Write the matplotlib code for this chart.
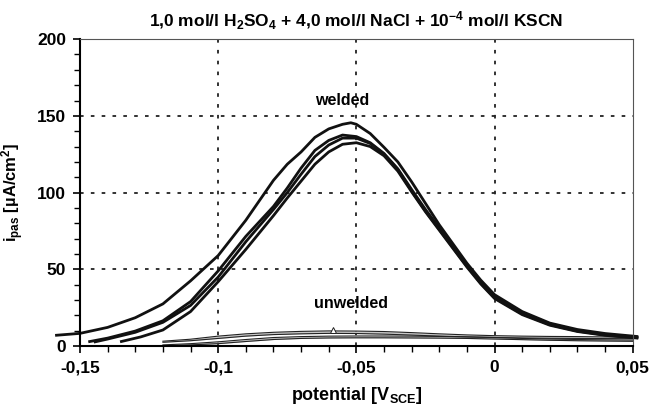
import numpy as np
import matplotlib.pyplot as plt
from matplotlib.ticker import MultipleLocator

plt.rcParams['font.family'] = ['Liberation Sans', 'DejaVu Sans']
plt.rcParams['font.weight'] = 'bold'
plt.rcParams['mathtext.fontset'] = 'custom'
plt.rcParams['mathtext.rm'] = 'Liberation Sans:bold'
plt.rcParams['mathtext.it'] = 'Liberation Sans:bold'
plt.rcParams['mathtext.bf'] = 'Liberation Sans:bold'

# =============================================================================
# data
# =============================================================================

# welded: four scans
xa = [-0.159, -0.15, -0.14, -0.13, -0.12, -0.11, -0.10, -0.09, -0.08, -0.075,
      -0.07, -0.065, -0.06, -0.055, -0.052, -0.05, -0.045, -0.04, -0.035, -0.03,
      -0.025, -0.02, -0.015, -0.01, -0.005, 0.0, 0.01, 0.02, 0.03, 0.04, 0.052]
ya = [7.0, 8.3, 12.2, 18.5, 27.5, 42.5, 59.0, 82.0, 108.0, 118.5,
      126.5, 136.0, 141.5, 144.5, 145.5, 144.5, 138.5, 129.5, 120.0, 107.0,
      93.0, 79.0, 66.5, 54.0, 43.0, 33.5, 22.5, 15.0, 10.8, 8.2, 6.2]

xb = [-0.147, -0.14, -0.13, -0.12, -0.11, -0.10, -0.09, -0.08, -0.075, -0.07,
      -0.065, -0.06, -0.055, -0.05, -0.045, -0.04, -0.035, -0.03, -0.025, -0.02,
      -0.015, -0.01, -0.005, 0.0, 0.01, 0.02, 0.03, 0.04, 0.052]
yb = [2.8, 5.2, 9.8, 16.5, 29.0, 49.0, 71.5, 91.0, 103.0, 116.0,
      127.5, 134.0, 137.5, 136.5, 132.5, 125.5, 115.5, 102.0, 89.0, 77.0,
      65.0, 53.0, 42.0, 32.5, 21.8, 14.5, 10.2, 7.6, 5.6]

xc = [-0.145, -0.14, -0.13, -0.12, -0.11, -0.10, -0.09, -0.08, -0.075, -0.07,
      -0.065, -0.06, -0.055, -0.05, -0.045, -0.04, -0.035, -0.03, -0.025, -0.02,
      -0.015, -0.01, -0.005, 0.0, 0.01, 0.02, 0.03, 0.04, 0.052]
yc = [2.6, 4.6, 9.0, 15.5, 26.5, 45.0, 68.0, 89.0, 100.0, 112.0,
      123.5, 131.0, 135.5, 135.5, 132.0, 125.0, 115.0, 101.0, 88.0, 76.0,
      64.0, 52.0, 41.0, 31.5, 21.0, 14.0, 9.8, 7.3, 5.4]

xd = [-0.1355, -0.128, -0.12, -0.11, -0.10, -0.09, -0.08, -0.075, -0.07,
      -0.065, -0.06, -0.055, -0.05, -0.045, -0.04, -0.035, -0.03, -0.025, -0.02,
      -0.015, -0.01, -0.005, 0.0, 0.01, 0.02, 0.03, 0.04, 0.052]
yd = [2.8, 6.0, 10.5, 22.5, 42.0, 63.0, 85.0, 96.5, 107.5,
      118.5, 126.5, 131.5, 132.5, 130.0, 124.0, 114.0, 100.5, 87.5, 75.5,
      63.5, 51.5, 40.5, 31.0, 20.5, 13.6, 9.5, 7.0, 5.2]

# unwelded: two loops (forward / backward)
xu = [-0.12, -0.11, -0.10, -0.09, -0.08, -0.07, -0.06, -0.05, -0.04, -0.03,
      -0.02, -0.01, 0.0, 0.01, 0.02, 0.03, 0.04, 0.052]
yu1_fw = [3.2, 4.5, 6.5, 8.0, 9.0, 9.6, 9.9, 9.8, 9.5, 8.8,
          8.0, 7.3, 6.8, 6.5, 6.3, 6.2, 6.0, 5.8]
yu1_bw = [2.5, 3.5, 5.0, 6.5, 7.5, 8.0, 8.3, 8.2, 7.8, 7.2,
          6.5, 6.0, 5.6, 5.3, 5.1, 5.0, 4.9, 4.8]
yu2_fw = [0.8, 1.6, 2.8, 4.3, 5.6, 6.2, 6.5, 6.6, 6.6, 6.5,
          6.3, 6.0, 5.6, 5.0, 4.6, 4.3, 4.1, 3.9]
yu2_bw = [0.3, 0.8, 1.6, 3.0, 4.3, 5.0, 5.3, 5.4, 5.4, 5.3,
          5.2, 5.0, 4.6, 4.2, 3.8, 3.5, 3.3, 3.1]

xticks = [-0.15, -0.1, -0.05, 0.0, 0.05]
xticklabels = ['-0,15', '-0,1', '-0,05', '0', '0,05']
yticks = [0, 50, 100, 150, 200]

# =============================================================================
# plot
# =============================================================================

fig = plt.figure(figsize=(6.53, 4.16), dpi=100)
ax = fig.add_axes([0.1225, 0.168, 0.8465, 0.738])

for ylo, yhi in [(yu1_bw, yu1_fw), (yu2_bw, yu2_fw)]:
    ax.fill_between(xu, ylo, yhi, color='#c8c8c8', lw=0)
    ax.plot(xu, yhi, color='#222222', lw=0.8)
    ax.plot(xu, ylo, color='#222222', lw=0.8)
ax.plot([-0.0585], [10.4], marker='^', ms=4, mfc='white', mec='#222222', mew=0.7)

for x, y in [(xa, ya), (xb, yb), (xc, yc), (xd, yd)]:
    ax.plot(x, y, color='#111111', lw=2.0, clip_on=False, solid_capstyle='butt')

ax.text(-0.055, 160, 'welded', ha='center', va='center', fontsize=11.5, fontweight='bold')
ax.text(-0.052, 28, 'unwelded', ha='center', va='center', fontsize=11.5, fontweight='bold')

ax.set_xlim(-0.15, 0.05)
ax.set_ylim(0, 200)
ax.set_xticks(xticks)
ax.set_xticklabels(xticklabels)
ax.set_yticks(yticks)
ax.xaxis.set_minor_locator(MultipleLocator(0.01))
ax.yaxis.set_minor_locator(MultipleLocator(10))
ax.tick_params(which='major', direction='out', length=5, width=1.2, labelsize=12.5, pad=5)
ax.tick_params(which='minor', direction='out', length=4, width=1.0)

for v in [-0.1, -0.05, 0.0]:
    ax.axvline(v, color='#222222', lw=1.3, ls=(0, (2, 4)), zorder=0)
for v in [50, 100, 150]:
    ax.axhline(v, color='#222222', lw=1.3, ls=(0, (2, 4)), zorder=0)

ax.spines['left'].set_linewidth(1.5)
ax.spines['bottom'].set_linewidth(1.5)
ax.spines['top'].set_linewidth(0.8)
ax.spines['right'].set_linewidth(0.8)
ax.spines['top'].set_color('#555555')
ax.spines['right'].set_color('#555555')

ax.set_title('1,0 mol/l H$_2$SO$_4$ + 4,0 mol/l NaCl + 10$^{-4}$ mol/l KSCN',
             fontsize=12.5, fontweight='bold', pad=9)
ax.set_xlabel('potential [V$_{SCE}$]', fontsize=13, fontweight='bold', labelpad=7)
ax.set_ylabel('i$_{pas}$ [µA/cm$^2$]', fontsize=12, fontweight='bold', labelpad=8)

fig.savefig('out.png', dpi=100)
